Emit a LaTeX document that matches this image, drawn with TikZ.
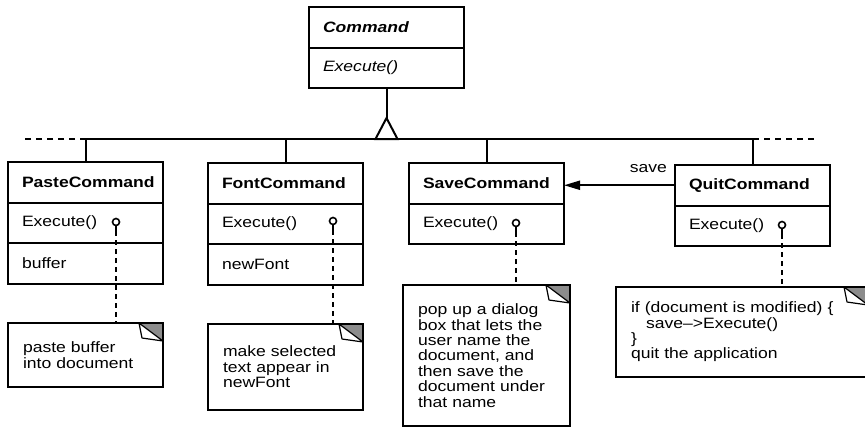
\documentclass[tikz,border=0pt]{standalone}
\usepackage{fontspec}
\setmainfont{Liberation Sans}[FakeStretch=1.17]
\usetikzlibrary{positioning,arrows.meta}

\begin{document}
\begin{tikzpicture}[
    x=0.5pt, y=-0.5pt,
    line width=1pt,
    font=\fontsize{7.5pt}{7.7pt}\selectfont,
    part/.style={rectangle, draw, outer sep=0pt, text width=63.5pt, inner xsep=7pt, inner ysep=0pt, minimum height=20.25pt, align=left},
    classname/.style={part, anchor=north west, font=\fontsize{7.5pt}{7.7pt}\selectfont\bfseries},
    knob/.style={circle, draw, fill=white, inner sep=0pt, minimum size=3.5pt, line width=0.8pt},
    notelink/.style={line width=1.3pt, dash pattern=on 2.5pt off 2pt},
    busdash/.style={dash pattern=on 3pt off 2.5pt},
    note/.style={rectangle, draw, outer sep=0pt, anchor=north west, inner xsep=7.5pt, align=left,
        path picture={
            \fill[black!45] (path picture bounding box.north east) -- ++(-12pt,0pt) -- ++(12pt,-9pt) -- cycle;
            \filldraw[fill=white, line width=0.6pt, line join=round] ([xshift=-12pt]path picture bounding box.north east) -- ++(1.5pt,-7.5pt) -- ([yshift=-9pt]path picture bounding box.north east) -- cycle;
        }},
    assoc/.style={-{Triangle[length=8pt, width=4.5pt]}}
]
    \useasboundingbox (0,0) rectangle (865,429);

    % abstract class
    \node [classname, font=\fontsize{7.5pt}{7.7pt}\selectfont\bfseries\itshape] (cmd) at (309,7) {Command};
    \node [part, below=0pt of cmd, font=\fontsize{7.5pt}{7.7pt}\selectfont\itshape] (cmdop) {Execute()};

    % subclasses
    \node [classname] (pastename) at (8,162) {PasteCommand};
    \node [part, below=0pt of pastename] (pasteop) {Execute()};
    \node [part, below=0pt of pasteop] (pasteattr) {buffer};

    \node [classname] (fontname) at (208,163) {FontCommand};
    \node [part, below=0pt of fontname] (fontop) {Execute()};
    \node [part, below=0pt of fontop] (fontattr) {newFont};

    \node [classname] (savename) at (409,163) {SaveCommand};
    \node [part, below=0pt of savename] (saveop) {Execute()};

    \node [classname] (quitname) at (675,165) {QuitCommand};
    \node [part, below=0pt of quitname] (quitop) {Execute()};

    % inheritance
    \draw (cmdop.south) -- ++(0,30) coordinate (apex);
    \draw (apex) -- ++(-11,21) -- ++(22,0) -- cycle;
    \coordinate (busleft) at (86,139);
    \coordinate (busright) at (753,139);
    \draw (busleft) -- (busright);
    \draw [busdash] (busleft) -- ++(-64,0);
    \draw [busdash] (busright) -- ++(64,0);
    \draw (pastename.north) -- (pastename.north |- busleft);
    \draw (fontname.north) -- (fontname.north |- busleft);
    \draw (savename.north) -- (savename.north |- busleft);
    \draw (quitname.north) -- (quitname.north |- busleft);

    % association
    \draw [assoc] (quitname.west) -- (quitname.west -| savename.east) node [pos=0.24, above=2.5pt] {save};

    % notes
    \node [note, text width=62.5pt, minimum height=32pt] (pastenote) at (8,323) {paste buffer\\into document};
    \node [note, text width=62.5pt, minimum height=43pt] (fontnote) at (208,324) {make selected\\text appear in\\newFont};
    \node [note, text width=68.5pt, minimum height=70.5pt] (savenote) at (403,285) {pop up a dialog\\box that lets the\\user name the\\document, and\\then save the\\document under\\that name};
    \node [note, text width=111pt, minimum height=45pt] (quitnote) at (616,287) {if (document is modified) \{\\\hspace*{7.5pt}save--{>}Execute()\\\}\\quit the application};

    % implementation links
    \node [knob] (pasteknob) at (116,222) {};
    \draw (pasteknob.south) -- ++(0,5) coordinate (pastestem);
    \draw [notelink] (pastestem) -- (pastestem |- pastenote.north);

    \node [knob] (fontknob) at (333,221) {};
    \draw (fontknob.south) -- ++(0,5) coordinate (fontstem);
    \draw [notelink] (fontstem) -- (fontstem |- fontnote.north);

    \node [knob] (saveknob) at (516,223) {};
    \draw (saveknob.south) -- ++(0,5) coordinate (savestem);
    \draw [notelink] (savestem) -- (savestem |- savenote.north);

    \node [knob] (quitknob) at (782,225) {};
    \draw (quitknob.south) -- ++(0,5) coordinate (quitstem);
    \draw [notelink] (quitstem) -- (quitstem |- quitnote.north);
\end{tikzpicture}
\end{document}
